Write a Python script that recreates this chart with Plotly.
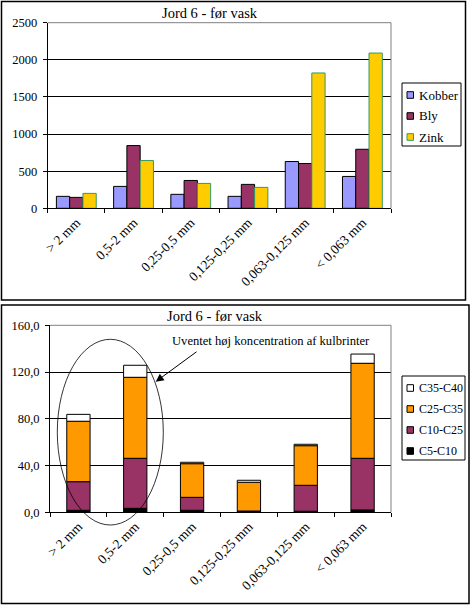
import plotly.graph_objects as go

# ---------------- data ----------------
categories = ["> 2 mm", "0,5-2 mm", "0,25-0,5 mm", "0,125-0,25 mm", "0,063-0,125 mm", "< 0,063 mm"]

kobber = [161, 295, 188, 161, 630, 429]
bly = [147, 845, 375, 322, 603, 795]
zink = [201, 643, 335, 282, 1823, 2091]

c5_c10 = [1.7, 3.4, 1.7, 0.8, 0.9, 2.0]
c10_c25 = [24.5, 42.8, 11.1, 0.3, 22.2, 44.2]
c25_c35 = [51.7, 69.3, 28.8, 24.6, 33.9, 81.3]
c35_c40 = [5.9, 10.3, 1.2, 1.7, 1.2, 7.9]

top_title = "Jord 6 - før vask"
bottom_title = "Jord 6 - før vask"
note_text = "Uventet høj koncentration af kulbrinter"

top_yticks = [0, 500, 1000, 1500, 2000, 2500]
top_yticklabels = ["0", "500", "1000", "1500", "2000", "2500"]
bottom_yticks = [0, 40, 80, 120, 160]
bottom_yticklabels = ["0,0", "40,0", "80,0", "120,0", "160,0"]

# ---------------- helpers ----------------
W, H = 473, 606
FONT = "Liberation Serif"


def px(x):
    return x / W


def py(y):
    return 1 - y / H


fig = go.Figure()

# ---------------- top chart (grouped) ----------------
bw = 0.232
top_series = [
    ("Kobber", kobber, "#9999FF", "#000000"),
    ("Bly", bly, "#993366", "#000000"),
    ("Zink", zink, "#FFCC00", "#339966"),
]
for i, (name, vals, col, lc) in enumerate(top_series):
    fig.add_trace(go.Bar(
        x=categories, y=vals, name=name,
        width=bw, offset=-1.5 * bw + i * bw,
        marker=dict(color=col, line=dict(color=lc, width=1)),
        xaxis="x", yaxis="y", showlegend=False,
    ))

# ---------------- bottom chart (stacked) ----------------
stack_series = [
    ("C5-C10", c5_c10, "#000000"),
    ("C10-C25", c10_c25, "#993366"),
    ("C25-C35", c25_c35, "#FF9900"),
    ("C35-C40", c35_c40, "#FFFFFF"),
]
base = [0.0] * len(categories)
for name, vals, col in stack_series:
    fig.add_trace(go.Bar(
        x=categories, y=vals, base=list(base), name=name,
        width=0.41,
        marker=dict(color=col, line=dict(color="#000000", width=1)),
        xaxis="x2", yaxis="y2", showlegend=False,
    ))
    base = [b + v for b, v in zip(base, vals)]

axis_common_x = dict(
    type="category", range=[-0.5, 5.5], tickson="boundaries",
    ticks="outside", ticklen=4, tickcolor="black", tickwidth=1,
    showline=True, linecolor="black", linewidth=1, showgrid=False,
    tickangle=-45, tickfont=dict(family=FONT, size=13.5, color="black"),
    automargin=False, zeroline=False,
)
axis_common_y = dict(
    ticks="outside", ticklen=4, tickcolor="black", tickwidth=1,
    showline=True, linecolor="black", linewidth=1,
    showgrid=True, gridcolor="black", gridwidth=1, zeroline=False,
    tickfont=dict(family=FONT, size=12.5, color="black"),
    automargin=False, tickmode="array", ticklabelstandoff=3,
)

fig.update_layout(
    template="none",
    width=W, height=H,
    margin=dict(l=0, r=0, t=0, b=0),
    paper_bgcolor="white", plot_bgcolor="white",
    barmode="overlay",
    font=dict(family=FONT, size=12, color="black"),
    xaxis=dict(axis_common_x, domain=[px(47.7), px(391)], anchor="y"),
    yaxis=dict(axis_common_y, domain=[py(208.3), py(22.7)], anchor="x",
               range=[0, 2500], tickvals=top_yticks, ticktext=top_yticklabels),
    xaxis2=dict(axis_common_x, domain=[px(50), px(391)], anchor="y2"),
    yaxis2=dict(axis_common_y, domain=[py(512.3), py(325.3)], anchor="x2",
                range=[0, 160], tickvals=bottom_yticks, ticktext=bottom_yticklabels),
    showlegend=False,
)

shapes = [
    # outer boxes
    dict(type="rect", xref="paper", yref="paper", x0=px(1.5), x1=px(465.5), y0=py(300), y1=py(1.5),
         line=dict(color="black", width=1.5)),
    dict(type="rect", xref="paper", yref="paper", x0=px(1.5), x1=px(469), y0=py(603.5), y1=py(305),
         line=dict(color="black", width=1.5)),
    # gray plot-area borders (top & right)
    dict(type="line", xref="paper", yref="paper", x0=px(47.7), x1=px(391), y0=py(22.7), y1=py(22.7),
         line=dict(color="#808080", width=1), layer="above"),
    dict(type="line", xref="paper", yref="paper", x0=px(391), x1=px(391), y0=py(22.7), y1=py(208.3),
         line=dict(color="#808080", width=1), layer="above"),
    dict(type="line", xref="paper", yref="paper", x0=px(50), x1=px(391), y0=py(325.3), y1=py(325.3),
         line=dict(color="#808080", width=1), layer="above"),
    dict(type="line", xref="paper", yref="paper", x0=px(391), x1=px(391), y0=py(325.3), y1=py(512.3),
         line=dict(color="#808080", width=1), layer="above"),
    # ellipse
    dict(type="circle", xref="paper", yref="paper", x0=px(57.3), x1=px(163.3), y0=py(525), y1=py(339.3),
         line=dict(color="black", width=0.8), layer="above"),
    # legend boxes
    dict(type="rect", xref="paper", yref="paper", x0=px(402), x1=px(461), y0=py(146), y1=py(83),
         line=dict(color="black", width=1), fillcolor="white"),
    dict(type="rect", xref="paper", yref="paper", x0=px(402), x1=px(465), y0=py(460), y1=py(376),
         line=dict(color="black", width=1), fillcolor="white"),
]

annotations = [
    dict(text=top_title, xref="paper", yref="paper", x=px(210), y=py(13), showarrow=False,
         font=dict(family=FONT, size=14.5, color="black"), xanchor="center", yanchor="middle"),
    dict(text=bottom_title, xref="paper", yref="paper", x=px(215), y=py(316), showarrow=False,
         font=dict(family=FONT, size=14.5, color="black"), xanchor="center", yanchor="middle"),
    dict(text=note_text, xref="paper", yref="paper", x=px(271), y=py(340.7), showarrow=False,
         font=dict(family=FONT, size=12.6, color="black"), xanchor="center", yanchor="middle"),
    dict(text="", xref="paper", yref="paper", x=px(155.7), y=py(381.7), showarrow=True,
         ax=42.3, ay=-31, arrowhead=2, arrowsize=1.6, arrowwidth=1, arrowcolor="black"),
]

# manual legends
for i, (name, vals, col, lc) in enumerate(top_series):
    yc = 95 + 21 * i
    shapes.append(dict(type="rect", xref="paper", yref="paper", x0=px(407), x1=px(413.5),
                       y0=py(yc + 3.3), y1=py(yc - 3.3), fillcolor=col, line=dict(color=lc, width=1)))
    annotations.append(dict(text=name, xref="paper", yref="paper", x=px(416.5), y=py(yc),
                            showarrow=False, xanchor="left", yanchor="middle",
                            font=dict(family=FONT, size=13, color="black")))

for i, (name, vals, col) in enumerate(reversed(stack_series)):
    yc = 388 + 21 * i
    shapes.append(dict(type="rect", xref="paper", yref="paper", x0=px(407), x1=px(413.5),
                       y0=py(yc + 3.3), y1=py(yc - 3.3), fillcolor=col, line=dict(color="black", width=1)))
    annotations.append(dict(text=name, xref="paper", yref="paper", x=px(416.5), y=py(yc),
                            showarrow=False, xanchor="left", yanchor="middle",
                            font=dict(family=FONT, size=12, color="black")))

fig.update_layout(shapes=shapes, annotations=annotations)

fig.write_html(
    "out.html",
    config={"displayModeBar": False},
    post_script="document.body.style.margin='0';document.body.style.overflow='hidden';",
)
